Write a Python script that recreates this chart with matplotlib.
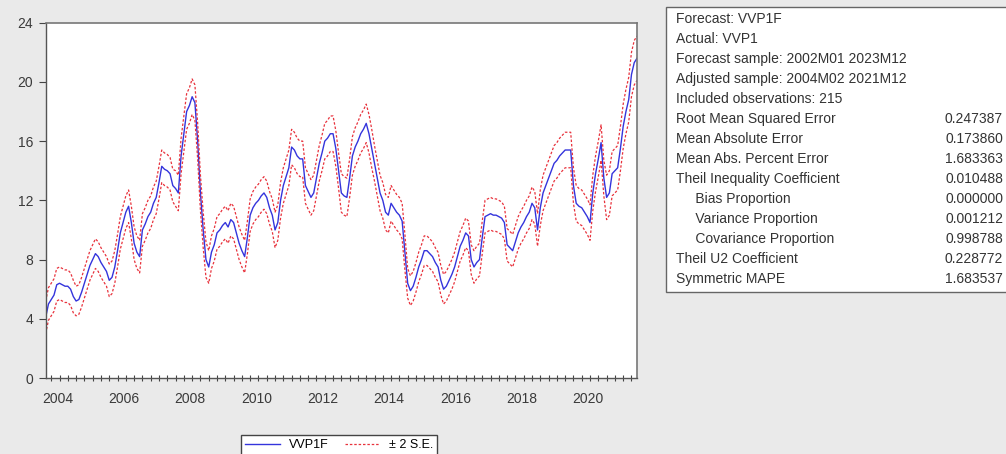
import numpy as np
import pandas as pd
import matplotlib
matplotlib.use("Agg")
import matplotlib.pyplot as plt
from matplotlib.patches import Rectangle

plt.rcParams['font.family'] = ['Liberation Sans', 'DejaVu Sans']

# monthly forecast VVP1F, 2004M02 .. 2021M12
f_2004 = [4.1, 5.0, 5.3, 5.6, 6.3, 6.4, 6.3, 6.2, 6.2, 6.0, 5.5]
f_2005 = [5.2, 5.3, 5.8, 6.4, 7.0, 7.6, 8.0, 8.4, 8.2, 7.8, 7.5, 7.2]
f_2006 = [6.6, 6.8, 7.5, 8.6, 9.8, 10.5, 11.2, 11.6, 10.5, 9.1, 8.5, 8.2]
f_2007 = [10.0, 10.4, 10.9, 11.2, 11.8, 12.2, 13.2, 14.3, 14.1, 14.0, 13.8, 13.0]
f_2008 = [12.8, 12.5, 15.0, 16.5, 18.0, 18.4, 19.0, 18.6, 16.0, 12.5, 10.0, 8.0]
f_2009 = [7.5, 8.5, 9.0, 9.8, 10.0, 10.3, 10.5, 10.2, 10.7, 10.5, 9.8, 9.1]
f_2010 = [8.6, 8.2, 9.5, 11.0, 11.5, 11.8, 12.0, 12.3, 12.5, 12.2, 11.5, 11.0]
f_2011 = [10.0, 10.5, 12.0, 13.0, 13.6, 14.2, 15.6, 15.4, 15.0, 14.8, 14.8, 13.0]
f_2012 = [12.6, 12.2, 12.5, 13.5, 14.5, 15.2, 16.0, 16.2, 16.5, 16.5, 15.5, 14.0]
f_2013 = [12.5, 12.3, 12.2, 13.5, 15.0, 15.6, 16.0, 16.5, 16.8, 17.2, 16.5, 15.5]
f_2014 = [14.5, 13.5, 12.5, 12.0, 11.2, 11.0, 11.8, 11.5, 11.2, 11.0, 10.6, 8.5]
f_2015 = [6.4, 5.9, 6.2, 6.8, 7.5, 8.0, 8.6, 8.6, 8.4, 8.2, 7.8, 7.5]
f_2016 = [6.6, 6.0, 6.2, 6.6, 7.0, 7.5, 8.2, 8.9, 9.3, 9.8, 9.6, 8.0]
f_2017 = [7.5, 7.8, 8.0, 9.5, 10.9, 11.0, 11.1, 11.0, 11.0, 10.9, 10.8, 10.5]
f_2018 = [9.0, 8.8, 8.6, 9.2, 9.8, 10.2, 10.5, 10.9, 11.2, 11.8, 11.5, 10.0]
f_2019 = [11.5, 12.5, 13.0, 13.5, 14.0, 14.5, 14.7, 15.0, 15.2, 15.4, 15.4, 15.4]
f_2020 = [13.0, 11.8, 11.6, 11.5, 11.2, 10.9, 10.5, 12.5, 13.8, 14.8, 15.9, 13.5]
f_2021 = [12.2, 12.5, 13.8, 14.0, 14.2, 15.5, 17.0, 18.0, 18.8, 20.5, 21.3, 21.6]

forecast = (f_2004 + f_2005 + f_2006 + f_2007 + f_2008 + f_2009 + f_2010 + f_2011
            + f_2012 + f_2013 + f_2014 + f_2015 + f_2016 + f_2017 + f_2018
            + f_2019 + f_2020 + f_2021)

# two standard errors, by year
se_years = list(range(2004, 2022))
two_se = [1.1, 1.0, 1.1, 1.1, 1.2, 1.1, 1.1, 1.2, 1.2, 1.3, 1.2, 1.0, 1.0, 1.1, 1.1, 1.2, 1.2, 1.5]

year_labels = ['2004', '2006', '2008', '2010', '2012', '2014', '2016', '2018', '2020']

stat_names = ['Forecast: VVP1F', 'Actual: VVP1', 'Forecast sample: 2002M01 2023M12',
              'Adjusted sample: 2004M02 2021M12', 'Included observations: 215',
              'Root Mean Squared Error', 'Mean Absolute Error', 'Mean Abs. Percent Error',
              'Theil Inequality Coefficient', '     Bias Proportion',
              '     Variance Proportion', '     Covariance Proportion',
              'Theil U2 Coefficient', 'Symmetric MAPE']
stat_values = ['', '', '', '', '', '0.247387', '0.173860', '1.683363', '0.010488',
               '0.000000', '0.001212', '0.998788', '0.228772', '1.683537']

dates = pd.date_range('2004-02-01', periods=len(forecast), freq='MS')
t = dates.year + (dates.month - 1) / 12.0
f = np.array(forecast)
band = np.array([two_se[se_years.index(y)] for y in dates.year])
upper = f + band
lower = f - band

W, H = 1006, 454
fig = plt.figure(figsize=(W / 100, H / 100), dpi=100, facecolor='#eaeaea')
ax = fig.add_axes([45.7 / W, 1 - 378 / H, (637 - 45.7) / W, (378 - 22.7) / H])
ax.set_facecolor('white')

l1, = ax.plot(t, f, color='#3434dc', lw=1.0, label='VVP1F')
l2, = ax.plot(t, upper, color='#e8323c', lw=0.9, ls=(0, (2, 1.5)), label='± 2 S.E.')
ax.plot(t, lower, color='#e8323c', lw=0.9, ls=(0, (2, 1.5)))

ax.set_xlim(t[0], t[-1])
ax.set_ylim(0, 24)
ax.set_yticks(range(0, 25, 4))
ax.set_xticks([int(y) + 0.44 for y in year_labels])
ax.set_xticklabels(year_labels)
ax.set_xticks(np.arange(2004.25, 2022.0, 0.25), minor=True)
ax.tick_params(axis='x', which='major', length=0, pad=10, labelsize=10, labelcolor='#3a3a3a')
ax.tick_params(axis='x', which='minor', direction='inout', length=5, width=0.8, color='#444444')
ax.tick_params(axis='y', length=5, width=0.8, color='#444444', labelsize=10,
               labelcolor='#3a3a3a', pad=4)
for side in ['left', 'bottom']:
    ax.spines[side].set_color('#555555')
    ax.spines[side].set_linewidth(1.0)
for side in ['top', 'right']:
    ax.spines[side].set_color('#777777')
    ax.spines[side].set_linewidth(1.2)

# legend below the axis
fig.legend(handles=[l1, l2], loc='upper center', bbox_to_anchor=(339 / W, 1 - 429 / H),
           ncol=2, fontsize=9, frameon=True, fancybox=False, edgecolor='#444444',
           handlelength=2.8, handletextpad=0.7, columnspacing=1.3, borderpad=0.3,
           framealpha=1)

# forecast evaluation table
box_left, box_top, box_bottom = 666, 7, 292
fig.patches.append(Rectangle((box_left / W, 1 - box_bottom / H), (W - box_left + 5) / W,
                             (box_bottom - box_top) / H, transform=fig.transFigure,
                             facecolor='white', edgecolor='#666666', lw=1.0))
y0, dy = 19, 20.0
for i, (name, val) in enumerate(zip(stat_names, stat_values)):
    y = 1 - (y0 + i * dy) / H
    fig.text((box_left + 10) / W, y, name, fontsize=10, color='#333333', va='center', ha='left')
    if val:
        fig.text(1003 / W, y, val, fontsize=10, color='#333333', va='center', ha='right')

fig.savefig('out.png', dpi=100, facecolor=fig.get_facecolor())
